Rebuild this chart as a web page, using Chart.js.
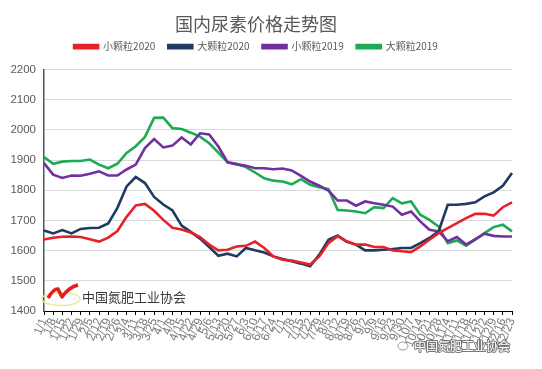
<!DOCTYPE html>
<html>
<head>
<meta charset="utf-8">
<script src="https://cdn.jsdelivr.net/npm/chart.js@4.4.0/dist/chart.umd.min.js"></script>
<style>
  html, body { margin: 0; padding: 0; background: #fff; }
  #wrap { width: 542px; height: 369px; }
</style>
</head>
<body>
<div id="wrap"><canvas id="myChart" width="542" height="369"></canvas></div>
<script>
const weeks = ['1/1','1/8','1/15','1/22','1/29','2/5','2/12','2/19','2/26','3/4','3/11','3/18','3/25',
  '4/1','4/8','4/15','4/22','4/29','5/6','5/13','5/20','5/27','6/3','6/10','6/17','6/24',
  '7/1','7/8','7/15','7/22','7/29','8/5','8/12','8/19','8/26','9/2','9/9','9/16','9/23','9/30',
  '10/7','10/14','10/21','10/28','11/4','11/11','11/18','11/25','12/2','12/9','12/16','12/23'];

const small2020 = [1637,1643,1646,1647,1645,1638,1630,1643,1665,1712,1750,1755,1732,1702,1676,1670,1660,1645,
  1620,1601,1603,1614,1616,1630,1609,1581,1570,1567,1561,1554,1581,1625,1648,1631,1620,1620,1612,1612,
  1601,1598,1595,1614,1636,1658,1675,1691,1708,1722,1722,1716,1744,1760];
const large2020 = [1667,1657,1668,1657,1672,1675,1676,1690,1742,1813,1844,1824,1778,1753,1733,1683,1662,1640,
  1612,1583,1590,1581,1609,1601,1594,1581,1572,1565,1557,1548,1587,1636,1650,1629,1620,1601,1601,1603,
  1605,1609,1609,1625,1642,1664,1752,1752,1755,1760,1780,1793,1815,1857];
const small2019 = [1890,1852,1841,1849,1848,1855,1863,1849,1849,1869,1885,1940,1970,1942,1948,1975,1952,1989,
  1985,1945,1893,1886,1881,1873,1873,1870,1872,1866,1848,1829,1815,1799,1766,1766,1749,1763,1757,1752,
  1746,1719,1730,1697,1669,1664,1631,1645,1620,1638,1656,1649,1647,1647];
const large2019 = [1910,1888,1895,1897,1897,1902,1885,1873,1888,1924,1946,1977,2040,2041,2006,2003,1991,1978,
  1956,1925,1893,1888,1877,1859,1840,1832,1829,1820,1837,1818,1810,1804,1735,1733,1730,1724,1744,1741,
  1774,1757,1763,1719,1702,1680,1625,1634,1616,1636,1658,1678,1686,1664];

const seriesNames = ['小颗粒2020', '大颗粒2020', '小颗粒2019', '大颗粒2019'];
const seriesColors = ['#E8202A', '#1F3A63', '#7030A0', '#1DAA55'];
const yTicks = [1400, 1500, 1600, 1700, 1800, 1900, 2000, 2100, 2200];

const cjk = "'Noto Sans CJK SC', 'Noto Sans', sans-serif";

function makeSet(i, values) {
  return {
    label: seriesNames[i],
    data: values,
    borderColor: seriesColors[i],
    backgroundColor: seriesColors[i],
    borderWidth: 2.6,
    pointRadius: 0,
    tension: 0
  };
}

// watermarks drawn over the chart
const watermark = {
  id: 'watermark',
  afterDraw(chart) {
    const c = chart.ctx;
    c.save();
    // logo bottom-left
    c.beginPath();
    c.ellipse(61, 299, 19, 6.5, 0, 0, Math.PI * 2);
    c.strokeStyle = '#F2E68C';
    c.lineWidth = 1.5;
    c.stroke();
    c.beginPath();
    c.moveTo(48, 298);
    c.quadraticCurveTo(54, 288, 58, 289);
    c.lineTo(62, 297);
    c.quadraticCurveTo(69, 287, 78, 285);
    c.strokeStyle = '#E0201F';
    c.lineWidth = 3.5;
    c.lineJoin = 'round';
    c.stroke();
    c.font = '13px ' + cjk;
    c.fillStyle = '#3A3A3A';
    c.textBaseline = 'middle';
    c.fillText('中国氮肥工业协会', 82, 297);
    // bottom-right
    c.beginPath();
    c.ellipse(403, 346, 5, 4, 0, 0, Math.PI * 2);
    c.strokeStyle = '#9A9A9A';
    c.lineWidth = 1;
    c.stroke();
    c.font = '12px ' + cjk;
    c.lineWidth = 2;
    c.strokeStyle = 'rgba(90,90,90,0.8)';
    c.strokeText('中国氮肥工业协会', 414, 346);
    c.fillStyle = '#FFFFFF';
    c.fillText('中国氮肥工业协会', 414, 346);
    c.restore();
  }
};

const ctx = document.getElementById('myChart').getContext('2d');

const chart_config = {
  type: 'line',
  data: {
    labels: weeks,
    datasets: [
      makeSet(0, small2020),
      makeSet(1, large2020),
      makeSet(2, small2019),
      makeSet(3, large2019)
    ]
  },
  options: {
    responsive: false,
    animation: false,
    devicePixelRatio: 1,
    layout: { padding: { left: 0, right: 30, top: 0, bottom: 0 } },
    plugins: {
      title: {
        display: true,
        text: '国内尿素价格走势图',
        color: '#595959',
        font: { family: cjk, size: 18, weight: 'normal' },
        padding: { top: 13, bottom: -6 }
      },
      // empty spacer between legend and plot area
      subtitle: {
        display: true,
        text: '',
        weight: 500,
        font: { size: 8, lineHeight: 1 },
        padding: 0
      },
      legend: {
        display: true,
        labels: {
          boxWidth: 24,
          boxHeight: 3,
          color: '#595959',
          font: { family: cjk, size: 10 },
          padding: 13
        }
      },
      tooltip: { enabled: false }
    },
    scales: {
      x: {
        afterFit(scale) { scale.height = 58; },
        grid: { display: true, drawOnChartArea: false, drawTicks: true, tickLength: 4, color: '#000' },
        border: { color: '#000', width: 1 },
        ticks: {
          autoSkip: false,
          minRotation: 68,
          maxRotation: 68,
          color: '#7A7A7A',
          padding: 1,
          font: { family: "'Liberation Sans', sans-serif", size: 12 }
        }
      },
      y: {
        min: 1400,
        max: 2200,
        afterFit(scale) { scale.width = 44; },
        afterBuildTicks(scale) { scale.ticks = yTicks.map(v => ({ value: v })); },
        grid: { color: '#D9D9D9', drawTicks: false },
        border: { color: '#44546A', width: 1.5 },
        ticks: {
          color: '#595959',
          padding: 8,
          font: { family: "'Liberation Sans', sans-serif", size: 11.5 },
          callback: v => String(v)
        }
      }
    }
  },
  plugins: [watermark]
};

var myChart = new Chart(ctx, chart_config);
</script>
</body>
</html>
